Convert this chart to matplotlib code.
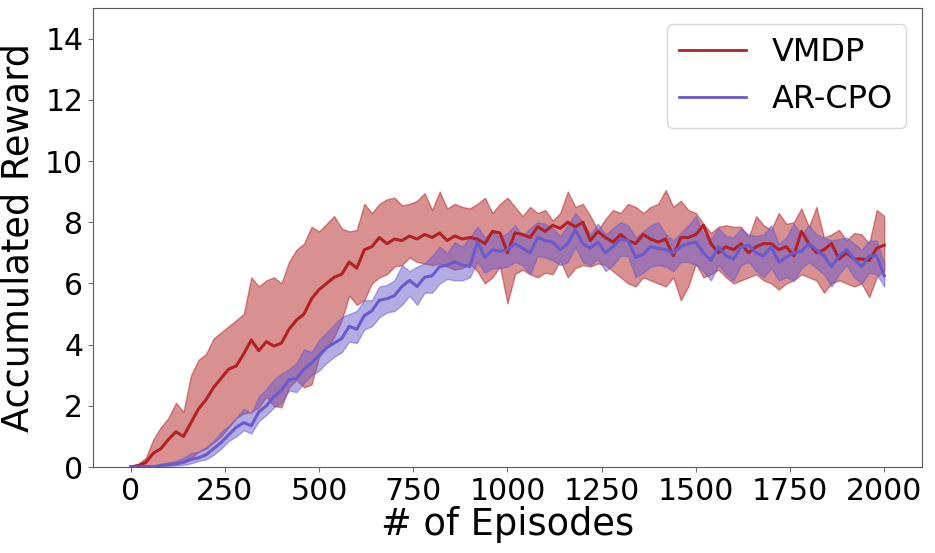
import numpy as np
import matplotlib
matplotlib.use("Agg")
import matplotlib.pyplot as plt

episodes = list(range(0, 2001, 20))

vmdp_mean = [0.0, 0.05, 0.15, 0.45, 0.6, 0.9, 1.15, 1.0, 1.45, 1.9,
             2.2, 2.6, 2.9, 3.2, 3.3, 3.7, 4.15, 3.8, 4.1, 3.95,
             4.05, 4.5, 4.8, 5.0, 5.5, 5.8, 6.0, 6.2, 6.3, 6.7,
             6.5, 7.1, 7.2, 7.5, 7.3, 7.45, 7.4, 7.55, 7.45, 7.6,
             7.5, 7.65, 7.4, 7.55, 7.45, 7.5, 7.45, 7.3, 7.7, 7.65,
             7.0, 7.65, 7.6, 7.5, 7.85, 7.7, 7.9, 7.8, 8.0, 7.85,
             8.0, 7.4, 7.7, 7.5, 7.35, 7.6, 7.4, 7.3, 7.6, 7.45,
             7.35, 7.45, 6.9, 7.5, 7.5, 7.6, 7.9, 7.3, 7.0, 7.2,
             7.1, 7.3, 7.0, 7.2, 7.3, 7.3, 7.1, 7.2, 6.9, 7.7,
             7.3, 7.0, 7.1, 7.3, 6.8, 7.0, 6.8, 6.8, 6.75, 7.15,
             7.25]
vmdp_upper = [0.0, 0.1, 0.3, 0.9, 1.3, 1.6, 2.1, 1.8, 3.0, 3.5,
              3.7, 4.2, 4.4, 4.6, 4.8, 5.0, 6.2, 5.9, 6.1, 6.2,
              6.0, 6.7, 7.1, 7.3, 7.85, 7.7, 7.95, 8.2, 7.8, 7.7,
              7.75, 8.6, 8.3, 8.6, 8.75, 8.8, 8.55, 8.6, 8.7, 8.95,
              8.4, 9.0, 8.45, 8.6, 8.5, 8.45, 8.6, 8.8, 8.3, 8.6,
              8.8, 8.5, 8.2, 8.5, 8.3, 8.4, 8.05, 8.3, 9.0, 8.5,
              8.6, 8.2, 7.75, 8.1, 8.4, 8.3, 8.6, 8.5, 8.3, 8.5,
              8.6, 9.05, 8.5, 8.7, 8.4, 8.3, 7.95, 7.65, 7.85, 7.9,
              7.85, 7.85, 7.5, 8.2, 7.9, 7.75, 8.3, 7.95, 8.0, 8.45,
              7.85, 8.5, 7.5, 7.6, 7.75, 7.4, 7.65, 7.6, 7.3, 8.4,
              8.2]
vmdp_lower = [0.0, 0.0, 0.0, 0.05, 0.05, 0.1, 0.1, 0.2, 0.3, 0.5,
              0.6, 0.8, 1.0, 1.3, 1.6, 1.75, 1.8, 1.95, 2.3, 2.0,
              1.95, 2.6, 2.85, 2.6, 2.7, 3.6, 3.9, 4.25, 4.8, 5.6,
              5.3, 5.45, 6.0, 6.2, 6.3, 6.55, 6.6, 6.85, 6.7, 6.65,
              6.6, 6.65, 6.55, 6.45, 6.5, 6.65, 6.4, 6.0, 6.2, 6.55,
              5.35, 6.3, 6.45, 6.3, 6.2, 6.35, 6.3, 6.75, 6.2, 6.5,
              6.6, 6.55, 6.65, 6.6, 6.4, 6.2, 6.0, 5.9, 6.2, 6.1,
              6.0, 5.9, 6.2, 5.45, 5.9, 6.65, 6.2, 6.3, 6.45, 6.2,
              6.0, 6.1, 6.2, 6.3, 6.1, 6.0, 5.8, 6.0, 6.1, 6.3,
              6.2, 6.1, 5.7, 6.0, 6.1, 6.0, 5.9, 6.0, 5.55, 6.2,
              6.45]

arcpo_mean = [0.0, 0.0, 0.02, 0.0, 0.05, 0.08, 0.1, 0.15, 0.25, 0.3,
              0.4, 0.6, 0.8, 1.05, 1.3, 1.45, 1.35, 1.8, 2.0, 2.3,
              2.5, 2.85, 2.9, 3.2, 3.4, 3.65, 3.9, 4.05, 4.2, 4.6,
              4.5, 4.95, 5.1, 5.45, 5.5, 5.6, 5.9, 6.1, 5.9, 6.2,
              6.25, 6.55, 6.6, 6.7, 6.6, 6.55, 7.35, 6.85, 7.1, 7.05,
              7.1, 7.3, 7.15, 7.0, 7.5, 7.4, 7.35, 7.1, 7.3, 7.75,
              7.3, 7.15, 7.35, 7.0, 7.2, 7.45, 7.4, 6.85, 6.95, 7.2,
              7.15, 7.1, 7.0, 7.2, 7.3, 7.35, 7.0, 6.75, 7.2, 6.9,
              6.8, 7.2, 7.25, 7.0, 6.9, 7.2, 6.7, 6.85, 7.0, 7.05,
              7.3, 7.1, 6.9, 6.55, 6.9, 7.1, 6.8, 6.55, 6.9, 6.9,
              6.25]
arcpo_upper = [0.0, 0.02, 0.05, 0.05, 0.1, 0.15, 0.2, 0.3, 0.45, 0.5,
               0.65, 0.85, 1.15, 1.35, 1.6, 1.9, 1.75, 2.3, 2.55, 2.85,
               3.05, 3.2, 3.4, 3.85, 3.75, 4.15, 4.4, 4.65, 4.9, 5.0,
               5.1, 5.45, 5.45, 5.9, 5.95, 6.1, 6.6, 6.4, 6.55, 6.65,
               6.9, 7.2, 7.0, 7.35, 7.2, 7.5, 7.85, 7.5, 7.7, 7.5,
               7.65, 7.9, 7.55, 7.8, 8.0, 7.95, 7.8, 7.55, 7.9, 8.3,
               8.0, 7.6, 7.95, 7.6, 7.8, 8.0, 7.9, 7.5, 7.7, 7.9,
               8.0, 7.6, 7.4, 7.65, 7.9, 8.2, 7.6, 7.45, 7.8, 7.55,
               7.5, 7.8, 7.6, 7.55, 7.6, 7.9, 7.3, 7.5, 7.95, 7.6,
               7.9, 7.6, 7.5, 7.4, 7.45, 7.5, 7.3, 7.1, 7.4, 7.4,
               6.65]
arcpo_lower = [0.0, 0.0, 0.0, 0.0, 0.02, 0.03, 0.05, 0.07, 0.12, 0.2,
               0.25, 0.4, 0.6, 0.85, 1.0, 1.2, 1.1, 1.5, 1.7, 1.95,
               2.1, 2.5, 2.45, 2.75, 3.0, 3.15, 3.4, 3.6, 3.75, 4.1,
               4.05, 4.5, 4.6, 4.9, 5.05, 5.1, 5.3, 5.6, 5.3, 5.7,
               5.7, 6.0, 6.15, 6.1, 6.1, 6.2, 6.7, 6.35, 6.5, 6.5,
               6.55, 6.7, 6.6, 6.3, 6.9, 6.85, 6.75, 6.6, 6.7, 7.2,
               6.7, 6.6, 6.8, 6.4, 6.6, 6.9, 6.9, 6.2, 6.35, 6.55,
               6.6, 6.55, 6.4, 6.7, 6.7, 6.6, 6.4, 6.1, 6.6, 6.3,
               6.1, 6.6, 6.7, 6.4, 6.2, 6.5, 6.1, 6.2, 6.1, 6.5,
               6.7, 6.5, 6.3, 5.9, 6.3, 6.6, 6.2, 6.0, 6.35, 6.3,
               5.9]

x_ticks = [0, 250, 500, 750, 1000, 1250, 1500, 1750, 2000]
y_ticks = [0, 2, 4, 6, 8, 10, 12, 14]

red = "#B22222"
purple = "#6A5ACD"

fig = plt.figure(figsize=(9.35, 5.53), dpi=100)
ax = fig.add_axes([0.0995, 0.1555, 0.8865, 0.830])

ax.fill_between(episodes, vmdp_lower, vmdp_upper, color=red, alpha=0.5, linewidth=1)
ax.fill_between(episodes, arcpo_lower, arcpo_upper, color=purple, alpha=0.5, linewidth=1)
ax.plot(episodes, vmdp_mean, color=red, linewidth=2.2, label="VMDP")
ax.plot(episodes, arcpo_mean, color=purple, linewidth=2.2, label="AR-CPO")

ax.set_xlim(-100, 2100)
ax.set_ylim(0, 15)
ax.set_xticks(x_ticks)
ax.set_yticks(y_ticks)
ax.tick_params(labelsize=21.5, color="0.45")
for sp in ax.spines.values():
    sp.set_color("0.35")
    sp.set_linewidth(0.8)
ax.set_xlabel("# of Episodes", fontsize=26.5, labelpad=0)
ax.set_ylabel("Accumulated Reward", fontsize=26.5, labelpad=6)

leg = ax.legend(loc="upper right", fontsize=23, borderpad=0.4, handlelength=2.1,
                handletextpad=0.8, labelspacing=0.5, borderaxespad=0.5)
for line in leg.get_lines():
    line.set_linewidth(2)

fig.savefig("out.png", dpi=100)
